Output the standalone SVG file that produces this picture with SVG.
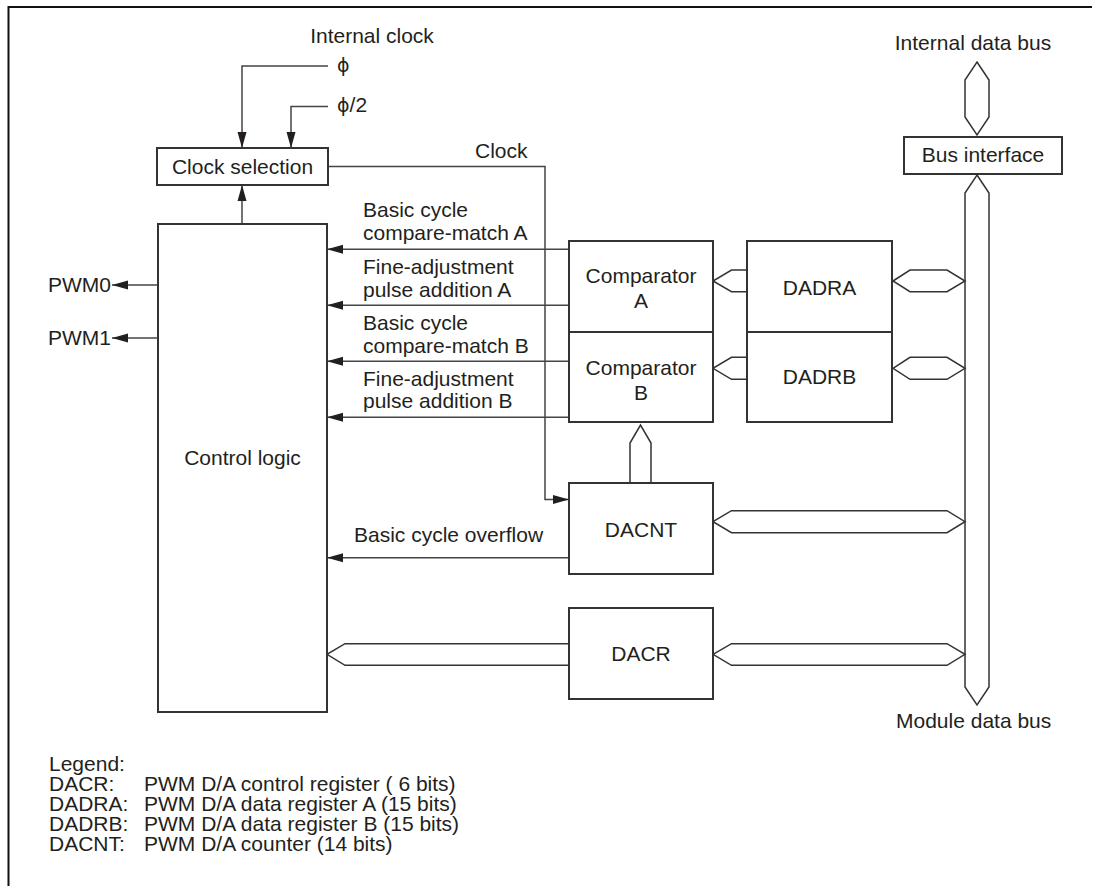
<svg xmlns="http://www.w3.org/2000/svg" width="1094" height="886" viewBox="0 0 1094 886">
<style>
text{font-family:"Liberation Sans",Arial,Helvetica,sans-serif;font-size:21px;fill:#231f20}
.box{fill:#fff;stroke:#333;stroke-width:2}
.w{fill:none;stroke:#444;stroke-width:1.5}
.bus{fill:#fff;stroke:#333;stroke-width:1.5;stroke-linejoin:miter}
.m{text-anchor:middle}
.e{text-anchor:end}
.phi{font-family:"DejaVu Sans","Liberation Sans",sans-serif;font-size:19px}
</style>
<defs>
<marker id="ah" markerUnits="userSpaceOnUse" markerWidth="16" markerHeight="10" refX="16" refY="5" orient="auto">
<path d="M0,0.5 L16,5 L0,9.5 z" fill="#231f20"/>
</marker>
</defs>
<rect width="1094" height="886" fill="#fff"/>
<g id="frame">
<path d="M8,7 H1092 M8.5,6 V886" fill="none" stroke="#111" stroke-width="2"/>
</g>
<g id="connectors">
<polyline class="w" points="328,66 242,66 242,148" marker-end="url(#ah)"/>
<polyline class="w" points="328,106.5 291,106.5 291,148" marker-end="url(#ah)"/>
<line class="w" x1="242" y1="224" x2="242" y2="185" marker-end="url(#ah)"/>
<polyline class="w" points="328,166.5 545,166.5 545,499.5 569,499.5" marker-end="url(#ah)"/>
<line class="w" x1="158" y1="285" x2="112" y2="285" marker-end="url(#ah)"/>
<line class="w" x1="158" y1="338" x2="112" y2="338" marker-end="url(#ah)"/>
<line class="w" x1="569" y1="249.3" x2="327" y2="249.3" marker-end="url(#ah)"/>
<line class="w" x1="569" y1="305.3" x2="327" y2="305.3" marker-end="url(#ah)"/>
<line class="w" x1="569" y1="361.3" x2="327" y2="361.3" marker-end="url(#ah)"/>
<line class="w" x1="569" y1="417.3" x2="327" y2="417.3" marker-end="url(#ah)"/>
<line class="w" x1="569" y1="557.7" x2="327" y2="557.7" marker-end="url(#ah)"/>
<polygon class="bus" points="977,62 989,80 989,117 977,135 965,117 965,80"/>
<polygon class="bus" points="977,175 989,193 989,687 977,705 965,687 965,193"/>
<polyline class="bus" points="747,270 731.5,270 713,281 731.5,291.7 747,291.7"/>
<polyline class="bus" points="747,357.3 731.5,357.3 713,368.3 731.5,379.3 747,379.3"/>
<polygon class="bus" points="893,281 910,270 947,270 965,281 947,291.7 910,291.7"/>
<polygon class="bus" points="893,368.3 910,357.3 947,357.3 965,368.3 947,379.3 910,379.3"/>
<polyline class="bus" points="630,483 630,443 640.5,425 651,443 651,483"/>
<polygon class="bus" points="713,521.7 731.5,510.7 947,510.7 965,521.7 947,532.7 731.5,532.7"/>
<polygon class="bus" points="713,654.3 731.5,643.7 947,643.7 965,654.3 947,665.3 731.5,665.3"/>
<polyline class="bus" points="569,643.7 345,643.7 327,654.3 345,665.3 569,665.3"/>
</g>
<g id="labels">
<text class="m" x="372" y="43">Internal clock</text>
<text x="337" y="72"><tspan class="phi">ϕ</tspan></text>
<text x="337" y="112"><tspan class="phi">ϕ</tspan>/2</text>
<text x="475" y="158">Clock</text>
<text class="m" x="973" y="50">Internal data bus</text>
<text x="896" y="728">Module data bus</text>
<text class="e" x="111" y="292">PWM0</text>
<text class="e" x="111" y="345">PWM1</text>
<text x="363" y="217">Basic cycle</text>
<text x="363" y="240">compare-match A</text>
<text x="363" y="274">Fine-adjustment</text>
<text x="363" y="297">pulse addition A</text>
<text x="363" y="330">Basic cycle</text>
<text x="363" y="353">compare-match B</text>
<text x="363" y="386">Fine-adjustment</text>
<text x="363" y="408">pulse addition B</text>
<text x="354" y="542">Basic cycle overflow</text>
</g>
<g id="clock-selection">
<rect class="box" x="157" y="148" width="171" height="37"/>
<text class="m" x="242.5" y="174">Clock selection</text>
</g>
<g id="control-logic">
<rect class="box" x="158" y="224" width="169" height="488"/>
<text class="m" x="242.5" y="465">Control logic</text>
</g>
<g id="bus-interface">
<rect class="box" x="904" y="137" width="158" height="37"/>
<text class="m" x="983" y="162">Bus interface</text>
</g>
<g id="comparator-a">
<rect class="box" x="569" y="241" width="144" height="91"/>
<text class="m" x="641" y="283">Comparator</text>
<text class="m" x="641" y="308">A</text>
</g>
<g id="comparator-b">
<rect class="box" x="569" y="332" width="144" height="90"/>
<text class="m" x="641" y="375">Comparator</text>
<text class="m" x="641" y="400">B</text>
</g>
<g id="dadra">
<rect class="box" x="747" y="241" width="145" height="91"/>
<text class="m" x="819.5" y="295">DADRA</text>
</g>
<g id="dadrb">
<rect class="box" x="747" y="332" width="145" height="90"/>
<text class="m" x="819.5" y="384">DADRB</text>
</g>
<g id="dacnt">
<rect class="box" x="569" y="483" width="144" height="91"/>
<text class="m" x="641" y="537">DACNT</text>
</g>
<g id="dacr">
<rect class="box" x="569" y="608" width="144" height="91"/>
<text class="m" x="641" y="661">DACR</text>
</g>
<g id="legend">
<text x="49" y="771">Legend:</text>
<text x="49" y="791">DACR:</text><text x="144" y="791">PWM D/A control register ( 6 bits)</text>
<text x="49" y="811">DADRA:</text><text x="144" y="811">PWM D/A data register A (15 bits)</text>
<text x="49" y="831">DADRB:</text><text x="144" y="831">PWM D/A data register B (15 bits)</text>
<text x="49" y="851">DACNT:</text><text x="144" y="851">PWM D/A counter (14 bits)</text>
</g>
</svg>
